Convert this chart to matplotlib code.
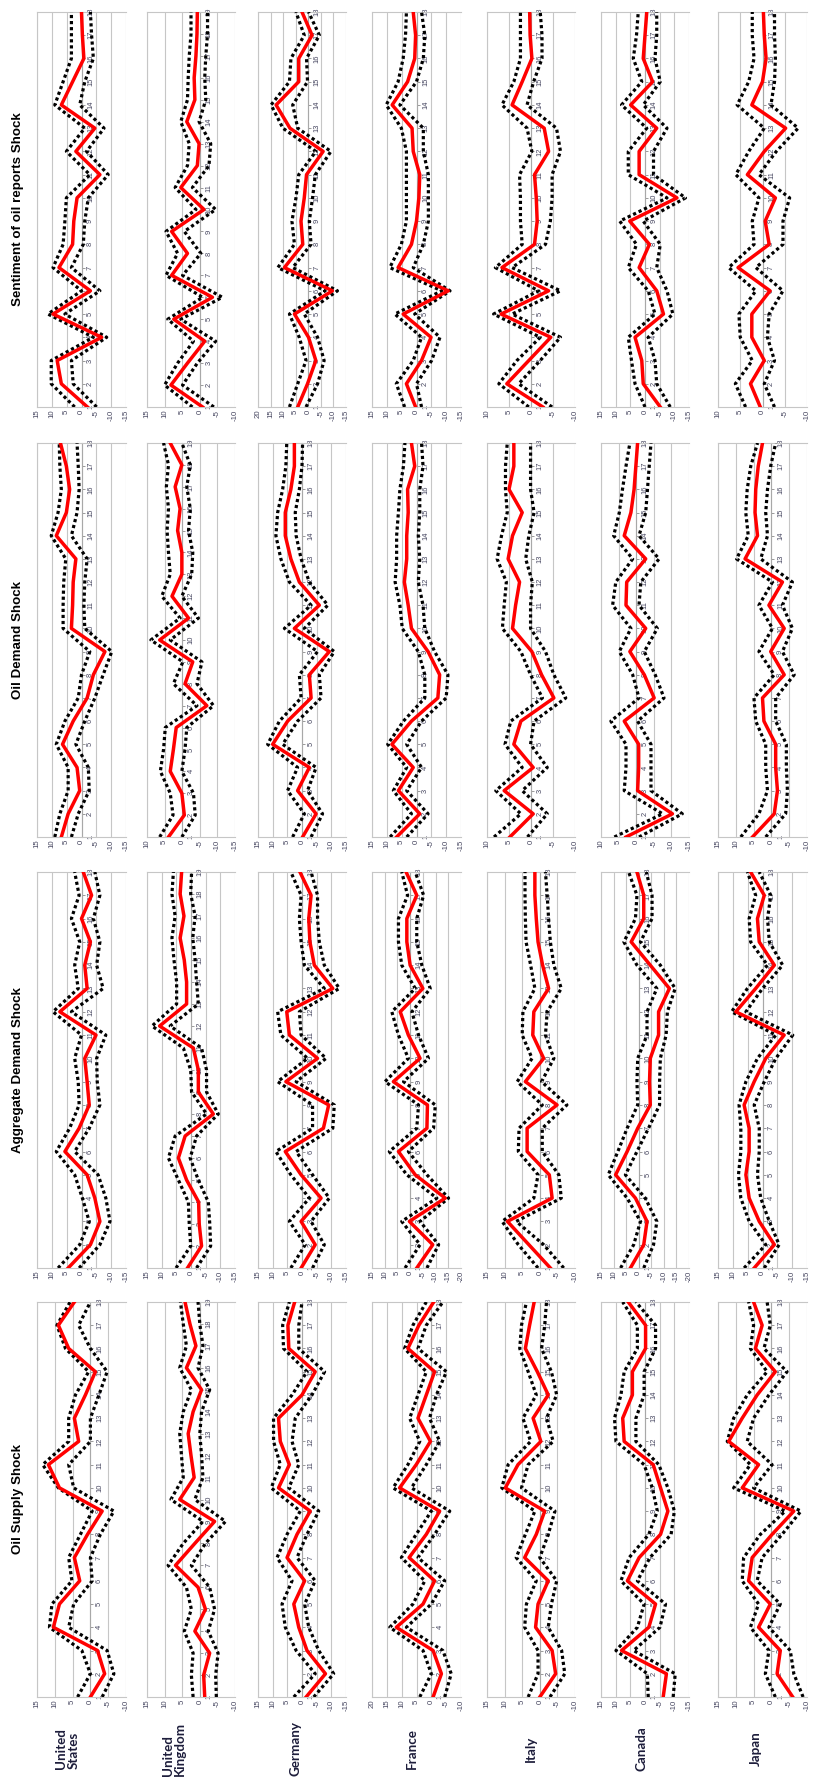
import matplotlib.pyplot as plt

plt.rcParams['axes.unicode_minus'] = False

# countries run left to right, shocks top to bottom (the whole sheet is turned on its side)
countries = ["United\nStates", "United\nKingdom", "Germany", "France", "Italy", "Canada", "Japan"]
label_x = [67, 174, 295, 412, 531, 641, 756]
shocks = ["Sentiment of oil reports Shock", "Oil Demand Shock",
          "Aggregate Demand Shock", "Oil Supply Shock"]

# value range shown on each panel (min, max), country order as above
sent_range = [(-15, 15), (-10, 15), (-15, 20), (-15, 15), (-10, 10), (-15, 15), (-10, 10)]
dem_range = [(-15, 15), (-15, 10), (-15, 15), (-15, 15), (-10, 10), (-15, 10), (-10, 15)]
agg_range = [(-15, 15), (-15, 15), (-15, 15), (-20, 15), (-10, 15), (-20, 15), (-15, 15)]
sup_range = [(-10, 15), (-10, 15), (-15, 15), (-10, 20), (-10, 15), (-15, 15), (-10, 15)]

# ---- Sentiment of oil reports shock
sent_mid = [
    [-2, 6.8, 8.2, -6.8, 9.6, -3, 7.6, 3, 2.6, 1.5, -6.2, 1.9, -4.5, 6.8, 3, -0.8, -0.3, 0],
    [-0.8, 8.2, 3.5, -1.4, 7.4, -3.6, 8, 3.5, 8, -1.2, 5.4, 0.7, 0.2, 3.7, 1.4, 1.6, 1.1, 0.8, 0.7],
    [4.2, 0.3, -3, -0.1, 5.5, -9.6, 9.5, 2.2, 2.9, 1.6, 0.7, -5.9, 7.3, 12.8, 3.8, 3.8, -1.5, 2.5],
    [0.3, 3.4, -1.7, -4.9, 4.5, -10.7, 6.2, 1.7, 0, -0.8, -1.1, 1.1, 1.5, 8.2, 3, 0.6, 0.3, 1.1],
    [-2.7, 5.5, 0.5, -4.5, 6.8, -4, 6.6, -0.8, -1.4, -1.2, -0.8, -4, -3, 4.3, 2, -0.2, 0.2, 0.3],
    [-5.2, 0.6, 1.1, 3.4, -6.3, -4, 2, -1.5, 5.2, -10.9, 2, 2, -4, 4.9, -2.6, 0.6, 0, -0.6],
    [0.5, 2.7, -0.4, 2.4, 2.4, -1.7, 5.5, -1.5, -0.6, -2.9, 3.4, -0.4, -5.2, 2.4, 0, -0.8, -0.4, -0.2],
]
sent_hi = [
    [2.3, 10.2, 10.2, -4, 11.3, 0, 9.6, 6.2, 5.6, 5.1, -2.8, 5.1, -1.1, 9, 6.2, 3.4, 3.4, 3.4],
    [2.1, 10, 6.3, 1.8, 9.1, -0.8, 9.6, 6.3, 9.6, 1.1, 7, 3.5, 3, 5.4, 3.5, 3.3, 3, 2.5, 2.5],
    [7.5, 4.2, 0.9, 3.6, 7.5, -6.7, 12.1, 5.5, 6.5, 4.9, 3.8, -3, 10.1, 14.8, 7.5, 6.9, 1.6, 4.9],
    [4, 6.8, 1.1, -1.7, 7.3, -8.5, 9, 5.1, 3.4, 3.4, 3.4, 3.4, 5.1, 10.2, 6.2, 4.5, 3.7, 3.4],
    [0.5, 7.3, 3.2, -2.1, 8.5, -1.7, 8.1, 2, 2.4, 2.4, 2.6, -0.2, 0.9, 6.6, 3.9, 2.4, 2.4, 2.4],
    [0, 3.4, 4.6, 5.7, -3.4, -1.1, 5.7, 2.9, 8.6, -7.5, 5.7, 5.7, -0.6, 8, 1.1, 4, 2.9, 2.3],
    [3.8, 6.1, 2.3, 5, 5.3, 1.5, 7.6, 1.9, 2.3, 0.8, 6, 3.1, -0.4, 5.7, 3.1, 1.9, 2.3, 2.3],
]
sent_lo = [
    [-5.1, 2.8, 3.4, -8.5, 5.6, -6.2, 3.4, -0.6, -1.1, -2.3, -9, -1.7, -7.6, 0.6, -1.1, -4, -3.4, -3],
    [-4, 4.9, 0.7, -4.5, 5.4, -6.4, 4.9, -0.3, 4.4, -4.5, 2.1, -2.6, -3.1, 0.2, -1.7, -1.4, -1.7, -2.2, -2.2],
    [0.9, -3.7, -6.3, -3.7, 1.6, -11.6, 6.2, -1.1, -0.4, -1.7, -2.8, -9, 4.2, 6.2, 0.3, 0.7, -4.4, -0.1],
    [-1.7, 0, -5.1, -7.9, 0.6, -11.3, 1.1, -2.3, -4, -4, -4, -2.3, -2.3, 5.6, 0, -2.3, -2.8, -1.7],
    [-4.8, 2.8, -2.1, -6.7, 4.3, -6.7, 4.3, -3.3, -4.4, -4.8, -4.8, -6.7, -5.8, 0.9, -0.6, -2.5, -2.5, -2.1],
    [-8.6, -4, -3.4, -1.1, -9.5, -7.5, -4, -5.2, 0.6, -13.8, -2.9, -2.9, -7.5, 0.6, -5.2, -3.4, -4, -4],
    [-2.7, -0.4, -2.7, -1.1, -1.5, -4.6, 1.5, -4.6, -4.6, -6.1, 0.8, -3.1, -8, -1.9, -2.7, -2.9, -2.7, -2.7],
]

# ---- Oil demand shock
dem_mid = [
    [6.8, 4.5, 0.6, 1.5, 6.4, 2.8, -1.9, -4, -7.9, 3.4, 3, 2.8, 1.9, 8.5, 5.1, 4, 5.1, 7.1],
    [3.9, -0.6, 0.1, 3.4, 2.5, 1.7, -7, -0.8, -3, 6.4, -1.8, 2.9, 0.1, 0.1, 1.3, 0.6, 2, 0.1, 3.4],
    [-0.2, -4.8, 1.5, -2.5, 10, 4.9, -3.1, -2.5, -9.3, 2.6, -5.9, 0.9, 3.8, 5.7, 5.7, 3.8, 2.6, 2.6],
    [6.7, -1.1, 6.1, 1.1, 8.3, 1.7, -7.2, -7.8, -3.9, 1.7, 2.8, 4.1, 3.3, 3.3, 2.8, 3, 0.6, 1.7],
    [4.8, -0.5, 6.1, -0.5, 3.9, 2.3, -5.2, -2.4, -0.2, 4.2, 3.5, 2.6, 5.2, 4.2, 2, 5, 3.9, 3.9],
    [2.9, -10.3, -0.4, -0.7, -0.7, 3.4, -5.1, -2.3, 1.8, -2.7, 2.9, 2.7, -2.7, 3.4, 1.5, 0.6, 0.1, -0.4],
    [5.3, -0.8, -1.7, -1.2, -1.2, 2.1, 2.5, -3.6, 0.2, -3.6, 0.7, -3.1, 7.4, 3.9, 4.6, 4.4, 3.7, 2.5],
]
dem_hi = [
    [9, 7.3, 4.5, 4.5, 8.5, 5.6, 1.1, 0, -2.8, 6.2, 6.2, 6, 5.3, 10.2, 7.9, 6.8, 7.3, 7.5],
    [6.4, 2.6, 3.4, 6.2, 5.3, 4.8, -4.2, 2.5, -0.2, 8.9, 0.6, 5.8, 3.4, 3.9, 4.3, 3.9, 4.5, 3.9, 5.3],
    [3.2, -0.8, 4.9, 1.5, 11.7, 7.7, 0.3, 0.9, -5.3, 6, -3.1, 4.3, 7.2, 8.9, 8.3, 6.6, 5.5, 5.2],
    [8.9, 1.7, 7.8, 3.3, 9.7, 4.4, -2.8, -2.8, -0.6, 4.8, 5.6, 7.2, 6.7, 6.7, 6.1, 5.6, 4.4, 3.9],
    [8.4, 2.3, 8, 2, 5.9, 4.6, -2.6, 0.1, 2.3, 6.5, 6.1, 5.6, 7.7, 6.7, 5.4, 5.8, 5.8, 5.4],
    [6.2, -7.5, 3.4, 2.9, 2.9, 7.2, -0.8, 1, 4.8, 1.5, 6.7, 5.8, 1, 6.4, 4.8, 3.9, 2.9, 1.8],
    [8.6, 3.5, 1.1, 1.6, 1.6, 4.4, 4.9, -0.8, 3.5, -0.3, 3.5, -0.3, 9.8, 6.5, 7.2, 6.8, 5.8, 3.9],
]
dem_lo = [
    [3.4, 1.1, -2.6, -2.3, 1.9, -1.1, -4.5, -7.3, -10.2, -1.1, -0.8, -1.1, -1.9, 3.4, 1.5, 0.8, 1.1, 1.5],
    [0.1, -3.7, -3.2, 0.1, -0.8, -1.3, -8.9, -4.2, -5.6, 3.4, -4.6, 0.1, -2.7, -3, -1.8, -2.3, -1.3, -2.3, 0.1],
    [-3.1, -7, -1.9, -4.8, 6.6, 1.5, -6.5, -5.9, -11, -0.8, -8.8, -2.5, 0.3, 2, 2.3, 0.9, 0, -0.2],
    [3.3, -3.9, 3.3, -1.7, 3.3, -1.7, -10, -10.6, -6.1, -2.8, -2.2, -0.6, -1.1, -0.6, -1.1, -1.1, -2.2, -1.7],
    [0.8, -3.7, 2, -3.7, 0.1, -0.7, -7.9, -5.2, -3.3, 0.1, 0.1, -0.3, 1.2, 0.5, -0.7, 0.1, 0.1, 0.1],
    [-0.8, -13.1, -4.2, -4.2, -4.2, -0.4, -7.9, -5.4, -2.3, -6, -0.8, -1.3, -6.5, -0.8, -2.7, -3.2, -3.7, -4.2],
    [1.6, -4, -4.5, -4.2, -4.2, -1.2, -1.2, -6.4, -3.1, -5.9, -3.1, -5.9, 3, 1.1, 1.6, 1.1, 0.2, -1.2],
]

# ---- Aggregate demand shock
agg_mid = [
    [4.5, -3, -6.2, -4.5, -1.9, 5.6, 0.8, -2.6, -1.9, -1.1, -4.9, 7.3, -1.9, -1.1, -3, 0, -3.4, -0.6],
    [1.2, -3.6, -2.8, -2.6, 1.5, 4.3, 2, -7.6, -2.5, -2.5, -0.8, 10.7, 1.5, 1.5, 2.3, 3.7, 2.4, 3.7, 3.2],
    [0.3, -4.5, 0.3, -6.5, 0.3, 5.7, -7.3, -9.1, 5.5, -5.3, 4.3, 5.2, -10.5, -4.2, -2.7, -2.3, -3.1, 0.7],
    [-2.6, -8.9, 0.3, -13.8, -2, 4.6, -6.6, -6.8, 6.6, -3.9, 0.7, 3.9, -5, 0, 1.3, 1.3, -2.6, 1.6],
    [-3, 3.1, 9.2, -3.5, -2.7, 3.6, 3.6, -4.9, 4.1, -1.1, 2, 1.7, -2.5, -0.8, 0.5, 1, 1.4, 1.4],
    [3.3, -2, -3.3, 1.3, 9.2, 4.6, 0.4, -4.6, -4.3, -4.6, -7.9, -7.9, -12.2, -4.6, 3, -2, -2, 0.7],
    [2.8, -4, 1.1, 4.5, 5.6, 4.5, 4.5, 6.2, 2.8, -1.1, -7.3, 9, 2.3, -4, 1.1, 1.7, -0.6, 4],
]
agg_hi = [
    [7.9, 0.6, -2.6, -0.3, 2.3, 8.5, 4, 0.8, 1.1, 2.3, 0, 9.6, 1.1, 2.3, 0.6, 3.4, 0.8, 2.3],
    [5.1, 0.1, 0.6, 0.9, 4.3, 7.7, 5.4, -5.3, -0.2, 0.1, 2.6, 13.3, 4.9, 4.9, 5.8, 6.5, 5.4, 6.5, 6],
    [3.8, -1.1, 4.3, -2.5, 3.8, 8.9, -3.6, -3.6, 8.3, -1.9, 7.2, 8.3, -7.6, -0.8, 0.3, 0.9, 0.3, 3.8],
    [2, -3.9, 3.3, -10.5, 1.3, 8.2, -2.6, -3.3, 9.9, 0.7, 4.6, 7.2, -2, 3.3, 4.6, 4.6, 1, 3.3],
    [0.5, 6.1, 10.7, 1.7, 0.5, 6.1, 5.9, -0.7, 6.4, 2.2, 5, 4.8, 1.4, 2.6, 3.9, 4.1, 4.2, 4.2],
    [7.2, 2, -0.7, 4.6, 12.1, 8.3, 4.6, 0.4, 0.7, 0.4, -3.3, -3.3, -7.2, 0.7, 5.9, 1.3, 0.7, 4],
    [6.2, -1.1, 4.5, 7.3, 8.1, 7.3, 7.3, 7.9, 5.6, 1.7, -4.5, 10.4, 5.1, -1.7, 4, 4.5, 2.3, 5.1],
]
agg_lo = [
    [0.8, -6.2, -9.6, -8.2, -5.6, 2.3, -2.6, -6.2, -5.3, -5.1, -8.2, 3.4, -7.3, -5.1, -6.2, -4, -6.2, -4.5],
    [-1.9, -6.7, -6.4, -5.9, -2.5, 0.3, -1.9, -9.3, -5.3, -5.3, -3.6, 7.1, -2.5, -1.9, -1.4, -0.6, -1.4, 0.1, -0.2],
    [-3.6, -7.6, -3.1, -9.3, -3.6, 2, -10.5, -11, 2, -8.2, 0.3, 0.9, -12.7, -7.6, -5.9, -5.3, -5.3, -3.1],
    [-6.6, -11.2, -3.9, -15.1, -6.6, 0.7, -9.2, -9.9, 2.6, -7.2, -3.3, -0.7, -7.9, -4.6, -2.6, -2.6, -5.3, -2],
    [-6.8, -1.1, 6.7, -6.1, -5.4, -0.7, -0.7, -7.7, -0.5, -4, -1.6, -2.1, -6.1, -4, -3, -2.5, -2.1, -1.6],
    [-2, -5.9, -7.2, -2.6, 5.3, 0.7, -3.9, -8.3, -8.3, -8.6, -10.9, -11.4, -14.5, -8.6, -0.7, -5.3, -5.3, -3],
    [-0.6, -5.6, -2.3, 0.6, 1.7, 1.1, 1.1, 2.8, -0.6, -4.5, -10.2, 5.6, 0, -6.8, -2.3, -1.7, -2.8, 1.1],
]

# ---- Oil supply shock
sup_mid = [
    [0, -4, -2, 10.4, 8.7, 3, 4.5, 0.8, -3.3, 8.7, 11.8, 3.3, 4.5, 1.4, -1.4, 6.1, 9, 4.5],
    [-1.4, -1.1, -2.8, 1.4, -1.6, 0.5, 6.9, 1.4, -4.2, 5.7, 1.6, 2.5, 3.3, 1.9, -0.5, 3.8, 1.1, 2.8, 4.2],
    [-1.4, -8, -1.7, 1.1, 2.8, -0.9, 5.1, 1.7, -2.8, 8, 4.3, 7.4, 8, 0, -4.5, 4.5, 4.8, 2.5],
    [-0.6, -3.4, -0.6, 11.8, 2.8, -1.1, 7.5, 1.7, -2.8, 10.7, 5.1, 0.3, 4.5, 1.7, -1.1, 7.9, 4.2, -0.8],
    [0, -4.5, -3.5, 1.2, 0.5, -2.4, 4.3, 1, -1.4, 9.8, 6.2, -0.3, 1.9, -2.4, 0.7, 4.1, 2.9, 1.6],
    [-6.2, -7.3, 8, -1.3, -3.6, 6, 2, -5.3, -7.8, -5.3, -2.8, 7.1, 7.6, 4.3, 4.3, -0.2, -0.2, 5.7],
    [-6, -1.6, -2.5, 3.6, 0.3, 6.4, 5.4, -0.2, -6.3, 8.2, 3.6, 12, 8.2, 4, -1.1, 4.5, 2.6, 5],
]
sup_hi = [
    [3.6, 0, 2.4, 11.5, 10.8, 5.2, 6.1, 2.8, -0.5, 9, 13.4, 6.1, 6.1, 4.2, 0.5, 7, 9.4, 5.7],
    [1.9, 2.4, 1.9, 4.4, 2.4, 3.8, 9, 4.7, -0.9, 8.2, 4.7, 5.2, 5.7, 4.7, 2.4, 5.7, 3.8, 4.7, 5.5],
    [2.8, -4.5, 2, 5.7, 6.8, 3.4, 8.5, 5.1, 0.6, 10.5, 7.4, 9.7, 9.7, 3.4, -1.7, 6.3, 6.6, 4.3],
    [3.9, 0, 2.8, 14, 6.2, 2.2, 10.1, 5.1, 0, 12.9, 7.9, 3.9, 7.3, 4.5, 1.7, 9, 6.2, 1.7],
    [3.3, 0.5, 0.5, 4.3, 3.8, 1, 6.7, 4.1, 1.4, 10.8, 9, 2.6, 4.8, 1, 3.3, 5.7, 5.2, 3.8],
    [-1.1, -0.8, 9.9, 2.6, 0.3, 8.2, 5.4, -1.3, -4.2, -2.5, 0.3, 9.9, 10.4, 8.2, 7.1, 2.6, 2.6, 7.6],
    [-1.1, 1.7, 0.7, 5.9, 3.6, 8.2, 7.8, 3.1, -3.9, 10.6, 5.9, 12.4, 10.6, 6.8, 1.2, 5.9, 5, 6.4],
]
sup_lo = [
    [-3.3, -6.6, -4.7, 6.1, 4.7, -0.5, 0, -2.8, -6.6, 4.7, 6.1, 0, 0, -2.4, -4.7, 0, 3.3, 0],
    [-4.7, -4.5, -5.2, -2.4, -4.2, -2.8, 2.4, -1.6, -7.3, 1.4, -0.9, -0.5, 0, -0.5, -2.8, 0.5, -0.9, 0, 0.5],
    [-4, -10.8, -5.7, -2.3, -0.9, -4.5, 1.7, -1.7, -5.7, 4.5, 1.1, 3.4, 2.3, -3.4, -7.7, 1.1, 1.1, 0],
    [-4.5, -6.7, -3.9, 8.4, 0, -4.5, 4.5, -1.1, -6.2, 6.7, 1.7, -2.8, 0.6, -1.7, -5.1, 4.5, 1.7, -3.9],
    [-2.9, -7.1, -6.2, -2.4, -3.3, -4.8, 0, -2.4, -4.3, 5.2, 3.3, -3.8, -1.9, -4.8, -3.3, -0.5, -1.4, -1.9],
    [-9.6, -10.3, 3.9, -5.1, -7, 2.6, -1.7, -8.9, -10, -7.8, -4.7, 3.1, 3.1, 0.3, 0.3, -3.6, -3.6, 3.1],
    [-8.9, -6.3, -5.3, 0.7, -2.5, 4, 2.6, -3, -8.3, 5, -0.2, 6.8, 5, 0.7, -4.4, 2.1, 0.3, 1.2],
]

blocks = [
    (sent_range, sent_mid, sent_hi, sent_lo),
    (dem_range, dem_mid, dem_hi, dem_lo),
    (agg_range, agg_mid, agg_hi, agg_lo),
    (sup_range, sup_mid, sup_hi, sup_lo),
]

# layout in pixels of the 813 x 1780 sheet
W, H = 813.0, 1780.0
block_rows = [(12, 407), (443, 837), (872, 1268), (1302, 1697)]
country_cols = [(37, 126), (147, 235), (258, 346), (372, 461), (487, 575), (601, 689), (718, 807)]

grid_c = '#c6c6c6'
tick_c = '#45455f'

fig = plt.figure(figsize=(8.13, 17.8), dpi=100)

for b, (ranges, mids, his, los) in enumerate(blocks):
    top, bot = block_rows[b]
    for c in range(len(countries)):
        x0, x1 = country_cols[c]
        ax = fig.add_axes([x0 / W, 1 - bot / H, (x1 - x0) / W, (bot - top) / H])
        vmin, vmax = ranges[c]
        mid, hi, lo = mids[c], his[c], los[c]
        months = list(range(1, len(mid) + 1))

        ax.plot(hi, months, color='black', lw=2.3, ls=(0, (1, 0.9)), dash_capstyle='butt', zorder=3)
        ax.plot(lo, months, color='black', lw=2.3, ls=(0, (1, 0.9)), dash_capstyle='butt', zorder=3)
        ax.plot(mid, months, color='#ff0000', lw=2.5, zorder=4)

        ax.set_xlim(vmax, vmin)
        ax.set_ylim(1, len(mid))
        vt = list(range(vmin, vmax + 1, 5))
        ax.set_xticks(vt)
        ax.set_xticklabels([str(v) for v in vt], rotation=90, fontsize=5.6,
                           color=tick_c, family='Liberation Sans')
        ax.tick_params(axis='x', length=0, pad=2)
        ax.grid(axis='x', color=grid_c, lw=0.8)
        ax.set_axisbelow(True)

        # month axis sits on the zero line
        ax.yaxis.tick_right()
        ax.spines['right'].set_position(('data', 0))
        ax.set_yticks(months)
        ax.set_yticklabels([str(m) for m in months], rotation=90, fontsize=5.4,
                           color=tick_c, family='Liberation Sans', va='center')
        ax.tick_params(axis='y', length=2.5, width=0.6, color='#8a8a8a', pad=1.5)
        for s in ['left', 'top', 'bottom']:
            ax.spines[s].set_color(grid_c)
            ax.spines[s].set_linewidth(0.8)
        ax.spines['right'].set_color('#a8a8a8')
        ax.spines['right'].set_linewidth(0.8)
        ax.patch.set_alpha(0)

    fig.text(18 / W, 1 - (top + bot) / 2 / H, shocks[b], rotation=90, ha='center', va='center',
             fontsize=9.6, fontweight='bold', family='Liberation Sans', color='black')

for c, name in enumerate(countries):
    fig.text(label_x[c] / W, 1 - 1749 / H, name, rotation=90, ha='center', va='center',
             multialignment='left', fontsize=9.6, fontweight='bold', family='Lato',
             color='#1d1d3b', linespacing=1.05)

fig.savefig('out.png', dpi=100, facecolor='white')
